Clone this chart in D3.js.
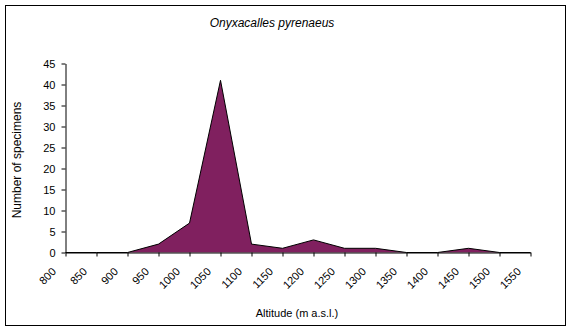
<!DOCTYPE html>
<html><head><meta charset="utf-8">
<script src="https://cdn.jsdelivr.net/npm/d3@7"></script>
<style>body{margin:0;background:#fff}svg{display:block}text{font-family:Arial,"Liberation Sans",sans-serif;fill:#000}</style>
</head><body>
<script>
const categories = [800,850,900,950,1000,1050,1100,1150,1200,1250,1300,1350,1400,1450,1500,1550];
const counts = [0,0,0,2,7,41,2,1,3,1,1,0,0,1,0,0];
const yTicks = [0,5,10,15,20,25,30,35,40,45];
const title = "Onyxacalles pyrenaeus";
const xTitle = "Altitude (m a.s.l.)";
const yTitle = "Number of specimens";

const W = 572, H = 332;
const svg = d3.select("body").append("svg").attr("width", W).attr("height", H);
svg.append("rect").attr("x",5.5).attr("y",5.5).attr("width",560).attr("height",320)
  .attr("fill","#fff").attr("stroke","#000").attr("stroke-width",1);

const x = d3.scalePoint().domain(categories).range([65.5, 530.5]);
const y = d3.scaleLinear().domain([0,45]).range([252.5, 63.5]);

const data = categories.map((c,i)=>({c, v: counts[i]}));
const area = d3.area().x(d=>x(d.c)).y0(y(0)).y1(d=>y(d.v));
const line = d3.line().x(d=>x(d.c)).y(d=>y(d.v));
svg.append("path").datum(data).attr("d", area).attr("fill","#80205F");
svg.append("path").datum(data).attr("d", line).attr("fill","none").attr("stroke","#000").attr("stroke-width",1);

// y axis
const ya = svg.append("g").attr("transform","translate(65.5,0)")
  .call(d3.axisLeft(y).tickValues(yTicks).tickSize(4).tickPadding(6).tickSizeOuter(0));
ya.select(".domain").attr("stroke","#000");
ya.selectAll("text").attr("font-size","11px").attr("font-family","Arial, 'Liberation Sans', sans-serif");

// x axis
const xa = svg.append("g").attr("transform","translate(0,252.5)")
  .call(d3.axisBottom(x).tickSize(4).tickSizeOuter(0));
xa.select(".domain").attr("stroke","#000");
xa.selectAll("text")
  .attr("font-size","11px").attr("font-family","Arial, 'Liberation Sans', sans-serif")
  .attr("text-anchor","end").attr("dy","0.35em").attr("y",0)
  .attr("transform","translate(-12,17) rotate(-45)");

svg.append("text").attr("x",272).attr("y",27).attr("text-anchor","middle")
  .attr("font-size","12px").attr("font-style","italic").text(title);
svg.append("text").attr("x",297).attr("y",317).attr("text-anchor","middle")
  .attr("font-size","11px").text(xTitle);
svg.append("text").attr("transform","translate(21,160) rotate(-90)").attr("text-anchor","middle")
  .attr("font-size","12px").text(yTitle);
</script>
</body></html>
